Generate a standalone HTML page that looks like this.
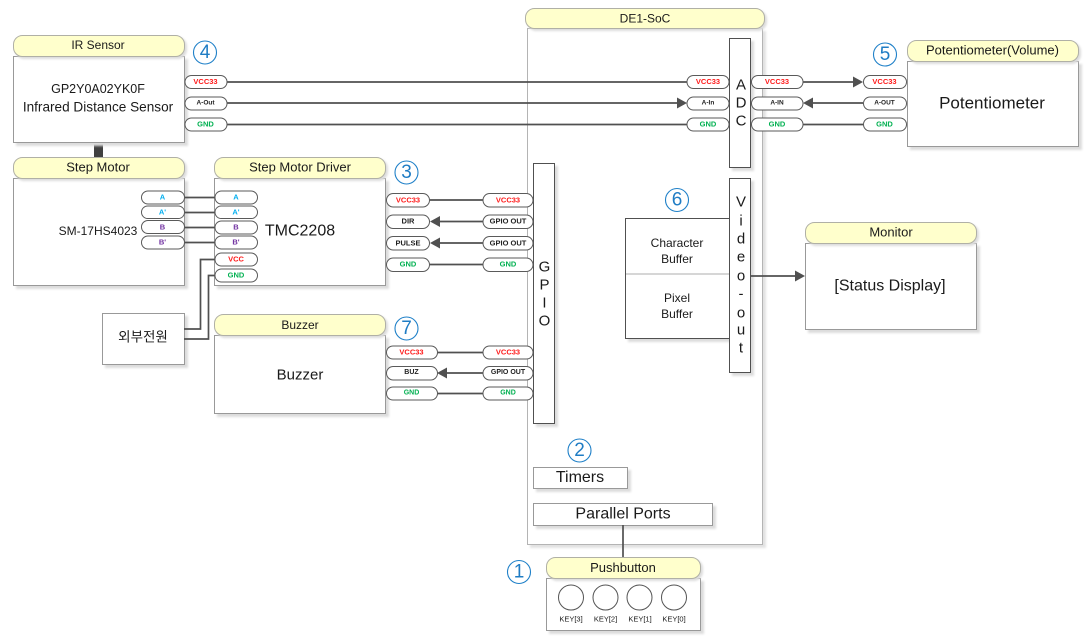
<!DOCTYPE html>
<html><head><meta charset="utf-8">
<style>
html,body{margin:0;padding:0;background:#fff;width:1088px;height:644px;overflow:hidden}
svg{display:block;filter:blur(0.3px)}
text{font-family:"Liberation Sans","Noto Sans CJK KR",sans-serif;text-anchor:middle;dominant-baseline:central;fill:#1a1a1a}
.box{fill:#fff;stroke:#999;stroke-width:1;filter:drop-shadow(3px 3px 1px #dcdcdc)}
.de{fill:#fff;stroke:#b4b4b4;stroke-width:1;filter:drop-shadow(3px 3px 1px #e2e2e2)}
.dk{fill:#fff;stroke:#505050;stroke-width:1;filter:drop-shadow(3px 3px 1px #dcdcdc)}
.hd{fill:#ffffcc;stroke:#b0b0a6;stroke-width:1;filter:drop-shadow(2px 2px 1px #dcdcdc)}
.pill{fill:#fff;stroke:#5a5a5a;stroke-width:1}
.w{stroke:#505050;stroke-width:1.7;fill:none}
.ar{fill:#505050}
.ht{font-size:12.5px}
.p{font-size:7.5px;font-weight:bold}
.r{fill:#ff1a1a}.g{fill:#00b050}.b{fill:#00aeef}.v{fill:#7030a0}.k{fill:#222}
.n{fill:none;stroke:#1f80c8;stroke-width:1.1}
.nt{font-size:19px;fill:#1f7cc4}
.l{font-size:15px}
</style></head><body>
<svg width="1088" height="644" viewBox="0 0 1088 644" xmlns="http://www.w3.org/2000/svg">

<!-- DE1-SoC -->
<rect class="de" x="527.5" y="28.5" width="235" height="516"/>
<rect class="hd" x="525.5" y="8.5" width="239" height="20" rx="9"/>
<text class="ht" x="645" y="18.5" style="font-size:12px">DE1-SoC</text>

<!-- IR Sensor -->
<rect x="94" y="142" width="9" height="15" fill="#404040"/>
<rect class="box" x="13.5" y="56.5" width="171" height="86"/>
<rect class="hd" x="13.5" y="35.5" width="171" height="21" rx="9"/>
<text class="ht" x="98" y="45" style="font-size:12px">IR Sensor</text>
<text x="98" y="89" style="font-size:12.5px">GP2Y0A02YK0F</text>
<text x="98" y="107" style="font-size:13.6px">Infrared Distance Sensor</text>

<!-- Potentiometer -->
<rect class="box" x="907.5" y="61.5" width="171" height="85"/>
<rect class="hd" x="907.5" y="40.5" width="171" height="21" rx="9"/>
<text class="ht" x="992.5" y="50" style="font-size:13px">Potentiometer(Volume)</text>
<text x="992" y="103" style="font-size:17px">Potentiometer</text>

<!-- Step motor -->
<rect class="box" x="13.5" y="178.5" width="171" height="107"/>
<rect class="hd" x="13.5" y="157.5" width="171" height="21" rx="9"/>
<text class="ht" x="98" y="167" style="font-size:13px">Step Motor</text>
<text x="98" y="231" style="font-size:12px">SM-17HS4023</text>

<!-- Step motor driver -->
<rect class="box" x="214.5" y="178.5" width="171" height="107"/>
<rect class="hd" x="214.5" y="157.5" width="171" height="21" rx="9"/>
<text class="ht" x="300" y="167" style="font-size:13px">Step Motor Driver</text>
<text x="300" y="231" style="font-size:16px">TMC2208</text>

<!-- External power -->
<rect class="box" x="102.5" y="313.5" width="82" height="51"/>
<text x="143" y="337" style="font-size:13.5px">외부전원</text>

<!-- Buzzer -->
<rect class="box" x="214.5" y="335.5" width="171" height="78"/>
<rect class="hd" x="214.5" y="314.5" width="171" height="21" rx="9"/>
<text class="ht" x="300" y="325" style="font-size:12px">Buzzer</text>
<text x="300" y="375" style="font-size:15px">Buzzer</text>

<!-- Monitor -->
<rect class="box" x="805.5" y="243.5" width="171" height="86"/>
<rect class="hd" x="805.5" y="222.5" width="171" height="21" rx="9"/>
<text class="ht" x="891" y="232" style="font-size:13px">Monitor</text>
<text x="890" y="286" style="font-size:16px">[Status Display]</text>

<!-- Buffers -->
<rect class="dk" x="625.5" y="218.5" width="104" height="120"/>
<line x1="626" y1="274" x2="729" y2="274" stroke="#bdbdbd" stroke-width="1.2"/>
<text x="677" y="243" style="font-size:12px">Character</text>
<text x="677" y="259" style="font-size:12px">Buffer</text>
<text x="677" y="298" style="font-size:12px">Pixel</text>
<text x="677" y="314" style="font-size:12px">Buffer</text>

<!-- GPIO -->
<rect class="dk" x="533.5" y="163.5" width="21" height="260"/>
<text class="l" x="544.5" y="267">G</text>
<text class="l" x="544.5" y="285">P</text>
<text class="l" x="544.5" y="303">I</text>
<text class="l" x="544.5" y="321">O</text>

<!-- ADC -->
<rect class="dk" x="729.5" y="38.5" width="21" height="129"/>
<text class="l" x="741" y="85">A</text>
<text class="l" x="741" y="103">D</text>
<text class="l" x="741" y="121">C</text>

<!-- Video-out -->
<rect class="dk" x="729.5" y="178.5" width="21" height="194"/>
<text class="l" x="741" y="202">V</text>
<text class="l" x="741" y="221">i</text>
<text class="l" x="741" y="239">d</text>
<text class="l" x="741" y="257">e</text>
<text class="l" x="741" y="276">o</text>
<text class="l" x="741" y="294">-</text>
<text class="l" x="741" y="313">o</text>
<text class="l" x="741" y="330">u</text>
<text class="l" x="741" y="348">t</text>

<!-- Timers / Parallel -->
<rect class="box" x="533.5" y="467.5" width="94" height="21"/>
<text x="580" y="477.5" style="font-size:16px">Timers</text>
<rect class="box" x="533.5" y="503.5" width="179" height="22"/>
<text x="623" y="514" style="font-size:16px">Parallel Ports</text>
<line class="w" x1="623" y1="525" x2="623" y2="557"/>

<!-- Pushbutton -->
<rect class="box" x="546.5" y="578.5" width="154" height="52"/>
<rect class="hd" x="546.5" y="557.5" width="154" height="21" rx="9"/>
<text class="ht" x="623" y="567.5" style="font-size:13px">Pushbutton</text>
<g fill="#fff" stroke="#555" stroke-width="1">
<circle cx="571" cy="597.5" r="12.5"/><circle cx="605.5" cy="597.5" r="12.5"/><circle cx="639.5" cy="597.5" r="12.5"/><circle cx="674" cy="597.5" r="12.5"/>
</g>
<text x="571" y="619" style="font-size:7.5px">KEY[3]</text>
<text x="605.5" y="619" style="font-size:7.5px">KEY[2]</text>
<text x="640" y="619" style="font-size:7.5px">KEY[1]</text>
<text x="674" y="619" style="font-size:7.5px">KEY[0]</text>

<!-- Wires -->
<path class="w" d="M227 82H687"/><path class="w" d="M227 103H678"/><path class="w" d="M227 124.500H687"/>
<path class="w" d="M803 82H854"/><path class="w" d="M812 103H863"/><path class="w" d="M803 124.500H863"/>
<path class="w" d="M184 197.500H215"/><path class="w" d="M184 212.500H215"/><path class="w" d="M184 227.500H215"/><path class="w" d="M184 242.500H215"/>
<path class="w" d="M184 329H200.500V259.500H215"/><path class="w" d="M184 339H208.500V275.500H215"/>
<path class="w" d="M430 200H483"/><path class="w" d="M439 221.500H483"/><path class="w" d="M439 243H483"/><path class="w" d="M430 264.500H483"/>
<path class="w" d="M437 352.500H483"/><path class="w" d="M446 373H483"/><path class="w" d="M437 393.500H483"/>
<path class="w" d="M751 276H796"/>
<g class="ar">
<polygon points="687,103 677,97.500 677,108.500"/>
<polygon points="863,82 853,76.500 853,87.500"/>
<polygon points="803,103 813,97.500 813,108.500"/>
<polygon points="430,221.500 440,216 440,227"/>
<polygon points="430,243 440,237.500 440,248.500"/>
<polygon points="437,373 447,367.500 447,378.500"/>
<polygon points="805,276 795,270.500 795,281.500"/>
</g>

<!-- Pills IR -->
<rect class="pill" x="185" y="75.500" width="42" height="13" rx="6.500"/><text class="p r" x="205.500" y="81.500">VCC33</text>
<rect class="pill" x="185" y="97" width="42" height="13" rx="6.500"/><text class="p k" x="205.500" y="103" style="font-size:6.500px">A-Out</text>
<rect class="pill" x="185" y="118" width="42" height="13" rx="6.500"/><text class="p g" x="205.500" y="124">GND</text>

<rect class="pill" x="687" y="75.500" width="42" height="13" rx="6.500"/><text class="p r" x="708" y="81.500">VCC33</text>
<rect class="pill" x="687" y="97" width="42" height="13" rx="6.500"/><text class="p k" x="708" y="103" style="font-size:6.500px">A-In</text>
<rect class="pill" x="687" y="118" width="42" height="13" rx="6.500"/><text class="p g" x="708" y="124">GND</text>

<rect class="pill" x="751.500" y="75.500" width="51.500" height="13" rx="6.500"/><text class="p r" x="777" y="81.500">VCC33</text>
<rect class="pill" x="751.500" y="97" width="51.500" height="13" rx="6.500"/><text class="p k" x="777" y="103" style="font-size:6.500px">A-IN</text>
<rect class="pill" x="751.500" y="118" width="51.500" height="13" rx="6.500"/><text class="p g" x="777" y="124">GND</text>

<rect class="pill" x="863.500" y="75.500" width="43" height="13" rx="6.500"/><text class="p r" x="884.500" y="81.500">VCC33</text>
<rect class="pill" x="863.500" y="97" width="43" height="13" rx="6.500"/><text class="p k" x="884.500" y="103" style="font-size:6.500px">A-OUT</text>
<rect class="pill" x="863.500" y="118" width="43" height="13" rx="6.500"/><text class="p g" x="884.500" y="124">GND</text>

<!-- Pills step motor -->
<rect class="pill" x="141.500" y="191" width="43" height="13" rx="6.500"/><text class="p b" x="162.500" y="197">A</text>
<rect class="pill" x="141.500" y="206" width="43" height="12.500" rx="6.200"/><text class="p b" x="162.500" y="212">A'</text>
<rect class="pill" x="141.500" y="220.500" width="43" height="13" rx="6.500"/><text class="p v" x="162.500" y="227">B</text>
<rect class="pill" x="141.500" y="236" width="43" height="13" rx="6.500"/><text class="p v" x="162.500" y="242">B'</text>

<rect class="pill" x="215" y="191" width="42.500" height="13" rx="6.500"/><text class="p b" x="236" y="197">A</text>
<rect class="pill" x="215" y="206" width="42.500" height="12.500" rx="6.200"/><text class="p b" x="236" y="212">A'</text>
<rect class="pill" x="215" y="221" width="42.500" height="13" rx="6.500"/><text class="p v" x="236" y="227">B</text>
<rect class="pill" x="215" y="236" width="42.500" height="13" rx="6.500"/><text class="p v" x="236" y="242">B'</text>
<rect class="pill" x="215" y="253" width="42.500" height="13" rx="6.500"/><text class="p r" x="236" y="259">VCC</text>
<rect class="pill" x="215" y="269" width="42.500" height="13" rx="6.500"/><text class="p g" x="236" y="275">GND</text>

<!-- Pills driver to GPIO -->
<rect class="pill" x="386.500" y="193.500" width="43" height="13.500" rx="6.700"/><text class="p r" x="408" y="200">VCC33</text>
<rect class="pill" x="386.500" y="215" width="43" height="13.500" rx="6.700"/><text class="p k" x="408" y="221">DIR</text>
<rect class="pill" x="386.500" y="236.500" width="43" height="13.500" rx="6.700"/><text class="p k" x="408" y="243">PULSE</text>
<rect class="pill" x="386.500" y="258" width="43" height="13.500" rx="6.700"/><text class="p g" x="408" y="264">GND</text>

<rect class="pill" x="483" y="193.500" width="50" height="13.500" rx="6.700"/><text class="p r" x="508" y="200">VCC33</text>
<rect class="pill" x="483" y="215" width="50" height="13.500" rx="6.700"/><text class="p k" x="508" y="221">GPIO OUT</text>
<rect class="pill" x="483" y="236.500" width="50" height="13.500" rx="6.700"/><text class="p k" x="508" y="243">GPIO OUT</text>
<rect class="pill" x="483" y="258" width="50" height="13.500" rx="6.700"/><text class="p g" x="508" y="264">GND</text>

<!-- Pills buzzer -->
<rect class="pill" x="386.500" y="346" width="51" height="13" rx="6.500"/><text class="p r" x="411.500" y="352">VCC33</text>
<rect class="pill" x="386.500" y="366.500" width="51" height="13.500" rx="6.700"/><text class="p k" x="411.500" y="372.500" style="font-size:7px">BUZ</text>
<rect class="pill" x="386.500" y="387" width="51" height="13" rx="6.500"/><text class="p g" x="411.500" y="393" style="font-size:7px">GND</text>

<rect class="pill" x="483" y="346" width="50" height="13" rx="6.500"/><text class="p r" x="508" y="352">VCC33</text>
<rect class="pill" x="483" y="366.500" width="50" height="13.500" rx="6.700"/><text class="p k" x="508" y="372.500" style="font-size:7px">GPIO OUT</text>
<rect class="pill" x="483" y="387" width="50" height="13" rx="6.500"/><text class="p g" x="508" y="393" style="font-size:7px">GND</text>

<!-- Numbers -->
<circle class="n" cx="519" cy="572" r="11.500"/><text class="nt" x="519" y="572">1</text>
<circle class="n" cx="579.500" cy="450.500" r="11.500"/><text class="nt" x="579.500" y="450.500">2</text>
<circle class="n" cx="406.500" cy="172.500" r="11.500"/><text class="nt" x="406.500" y="172.500">3</text>
<circle class="n" cx="205" cy="52.500" r="11.500"/><text class="nt" x="205" y="52.500">4</text>
<circle class="n" cx="885" cy="54.500" r="11.500"/><text class="nt" x="885" y="54.500">5</text>
<circle class="n" cx="677" cy="200" r="11.500"/><text class="nt" x="677" y="200">6</text>
<circle class="n" cx="406.500" cy="328.500" r="11.500"/><text class="nt" x="406.500" y="328.500">7</text>
</svg>
</body></html>
